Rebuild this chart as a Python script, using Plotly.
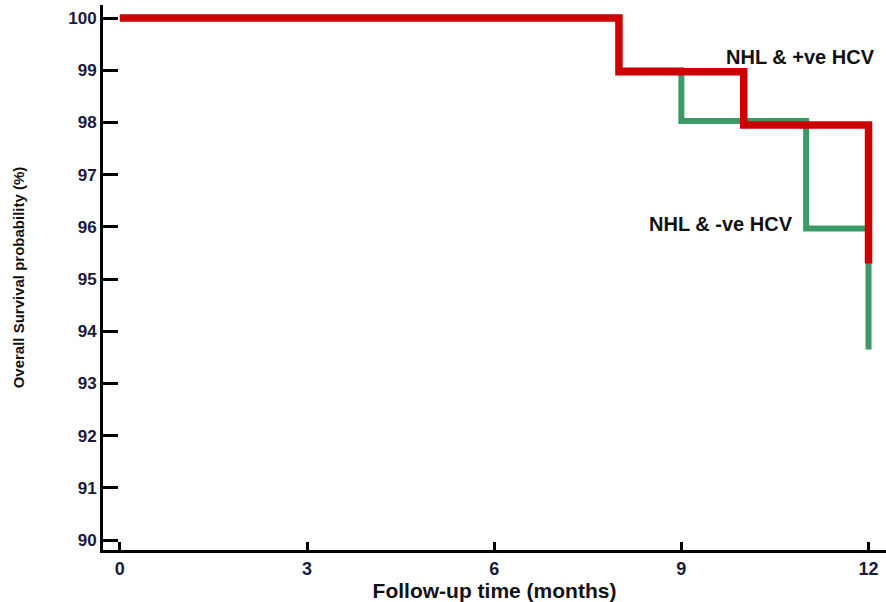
import plotly.graph_objects as go

# Data
months_pos = [0, 8, 8, 10, 10, 12, 12]
surv_pos = [100, 100, 98.97, 98.97, 97.95, 97.95, 95.3]
months_neg = [0, 8, 8, 9, 9, 11, 11, 12, 12]
surv_neg = [100, 100, 99.0, 99.0, 98.03, 98.03, 95.97, 95.97, 93.65]
x_ticks = [0, 3, 6, 9, 12]
y_ticks = [90, 91, 92, 93, 94, 95, 96, 97, 98, 99, 100]

fig = go.Figure()
fig.add_trace(go.Scatter(x=months_neg, y=surv_neg, mode="lines",
                         line=dict(color="#3a9a68", width=6), name="NHL & -ve HCV"))
fig.add_trace(go.Scatter(x=months_pos, y=surv_pos, mode="lines",
                         line=dict(color="#cc0000", width=7.5), name="NHL & +ve HCV"))

fig.add_annotation(x=12.13, y=99.25, text="<b>NHL & +ve HCV</b>", showarrow=False,
                   xanchor="right", yanchor="middle",
                   font=dict(family="Liberation Sans, Arial", size=20, color="#111"))
fig.add_annotation(x=10.82, y=96.05, text="<b>NHL & -ve HCV</b>", showarrow=False,
                   xanchor="right", yanchor="middle",
                   font=dict(family="Liberation Sans, Arial", size=20, color="#111"))

fig.update_layout(
    width=886, height=602,
    margin=dict(l=103, r=0, t=5, b=52, autoexpand=False),
    plot_bgcolor="white", paper_bgcolor="white",
    showlegend=False,
    font=dict(family="Liberation Sans, Arial", color="#1a1a3a"),
)
fig.update_xaxes(
    range=[-0.27, 12.28], tickvals=x_ticks, ticktext=[f"<b>{v}</b>" for v in x_ticks],
    ticks="inside", ticklen=8, tickwidth=2.5, tickcolor="black",
    showline=True, linecolor="black", linewidth=3, showgrid=False, zeroline=False,
    tickfont=dict(size=18), automargin=False,
    title=dict(text="<b>Follow-up time (months)</b>", font=dict(size=21, color="#111"), standoff=2),
)
fig.update_yaxes(
    range=[89.81, 100.25], tickvals=y_ticks, ticktext=[f"<b>{v}</b>" for v in y_ticks],
    ticks="inside", ticklen=15, tickwidth=2.5, tickcolor="black",
    showline=True, linecolor="black", linewidth=3, showgrid=False, zeroline=False,
    tickfont=dict(size=17), automargin=False,
    title=dict(text="<b>Overall Survival probability (%)</b>",
               font=dict(family="Liberation Sans Narrow, Arial Narrow, Liberation Sans", size=15, color="#111"),
               standoff=40),
)
fig.write_html("out.html", config={"displayModeBar": False},
               post_script="document.body.style.margin='0';")
